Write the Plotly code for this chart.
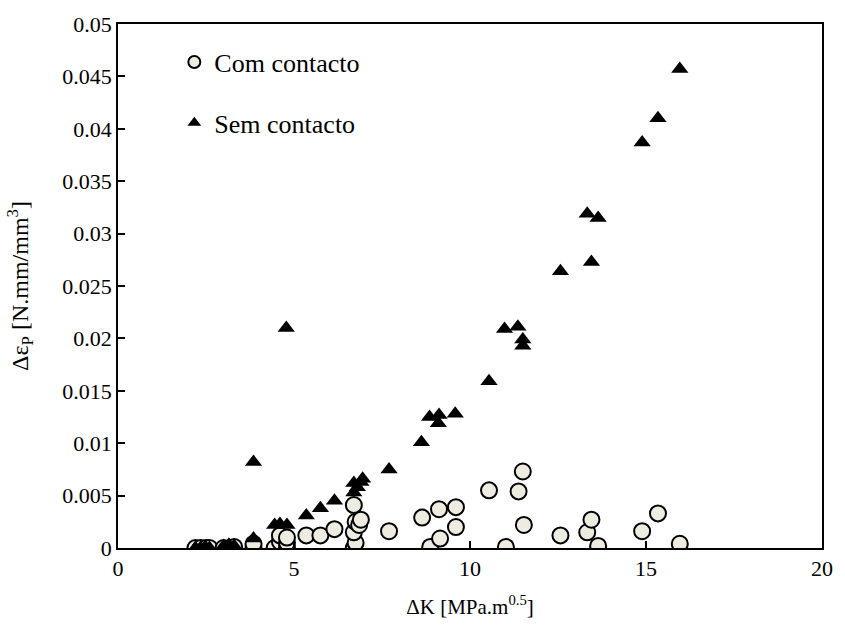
import plotly.graph_objects as go

# Com contacto (circles)
com_x = [2.2, 2.35, 2.5, 2.6, 3.0, 3.2, 3.3, 3.85, 3.85, 4.45, 4.6, 4.6, 4.8, 4.8, 4.8,
         5.35, 5.75, 6.15, 6.7, 6.75, 6.7, 6.75, 6.7, 6.85, 6.9, 7.7, 8.64, 8.87, 9.12,
         9.15, 9.6, 9.6, 10.54, 11.02, 11.38, 11.5, 11.53, 12.57, 13.33, 13.45, 13.64,
         14.89, 15.34, 15.96]
com_y = [0.0, 0.0, 0.0, 0.0, 0.0, 0.0, 0.0001, 0.0, 0.0004, 0.0, 0.0006, 0.0012, 0.0, 0.0005, 0.001,
         0.0012, 0.0012, 0.0018, 0.0, 0.0005, 0.0015, 0.0025, 0.0041, 0.0022, 0.0027, 0.0016, 0.0029, 0.0001, 0.0037,
         0.0009, 0.0039, 0.002, 0.0055, 0.0001, 0.0054, 0.0073, 0.0022, 0.0012, 0.0015, 0.0027, 0.0002,
         0.0016, 0.0033, 0.0004]

# Sem contacto (triangles)
sem_x = [2.2, 2.35, 2.5, 2.6, 3.0, 3.15, 3.3, 3.85, 3.85, 4.45, 4.6, 4.8, 4.78, 5.35, 5.75,
         6.15, 6.7, 6.7, 6.8, 6.9, 6.95, 7.7, 8.62, 8.85, 9.1, 9.12, 9.58, 10.54, 10.98,
         11.36, 11.5, 11.5, 12.57, 13.33, 13.45, 13.64, 14.89, 15.34, 15.96]
sem_y = [0.0, 0.0, 0.0, 0.0, 0.0002, 0.0003, 0.0002, 0.0009, 0.0082, 0.0022, 0.0023, 0.0022, 0.021, 0.0031, 0.0038,
         0.0045, 0.0053, 0.0062, 0.0058, 0.0063, 0.0066, 0.0075, 0.0101, 0.0125, 0.0119, 0.0127, 0.0128, 0.0159, 0.0209,
         0.0211, 0.0193, 0.0199, 0.0264, 0.0319, 0.0273, 0.0315, 0.0387, 0.041, 0.0457]

y_ticks = [0, 0.005, 0.01, 0.015, 0.02, 0.025, 0.03, 0.035, 0.04, 0.045, 0.05]
y_ticktext = ["0", "0.005", "0.01", "0.015", "0.02", "0.025", "0.03", "0.035", "0.04", "0.045", "0.05"]
x_ticks = [0, 5, 10, 15, 20]

FONT = "Liberation Serif, Times New Roman, serif"

fig = go.Figure()
fig.add_trace(go.Scatter(
    x=com_x, y=com_y, mode="markers", name="Com contacto", legendgroup="a",
    marker=dict(symbol="circle", size=16, color="#EEECE1",
                line=dict(color="black", width=2)),
))
fig.add_trace(go.Scatter(
    x=sem_x, y=sem_y, mode="markers", name="Sem contacto", legendgroup="b",
    marker=dict(symbol="triangle-up", size=15, color="black",
                line=dict(color="black", width=0)),
))

axis_common = dict(showline=True, linecolor="black", linewidth=1.5, mirror=True,
                   ticks="inside", ticklen=7, tickcolor="black", tickwidth=1.5,
                   showgrid=False, zeroline=False,
                   tickfont=dict(family=FONT, size=22, color="black"))

fig.update_layout(
    width=845, height=635,
    margin=dict(l=118, r=19, t=20, b=87),
    paper_bgcolor="white", plot_bgcolor="white",
    font=dict(family=FONT, size=22, color="black"),
    xaxis=dict(range=[0, 20], tickvals=x_ticks,
               title=dict(text="ΔK [MPa.m<sup>0.5</sup>]", font=dict(family=FONT, size=21), standoff=19),
               **axis_common),
    yaxis=dict(range=[0, 0.05], tickvals=y_ticks, ticktext=y_ticktext,
               title=dict(text="Δε<sub>P</sub> [N.mm/mm<sup>3</sup>]", font=dict(family=FONT, size=24), standoff=27),
               **axis_common),
    legend=dict(x=0.08, y=0.972, xanchor="left", yanchor="top",
                bgcolor="rgba(0,0,0,0)", borderwidth=0,
                font=dict(family=FONT, size=26, color="black"),
                tracegroupgap=24, itemsizing="constant"),
    showlegend=True,
)

fig.write_html("out.html")
